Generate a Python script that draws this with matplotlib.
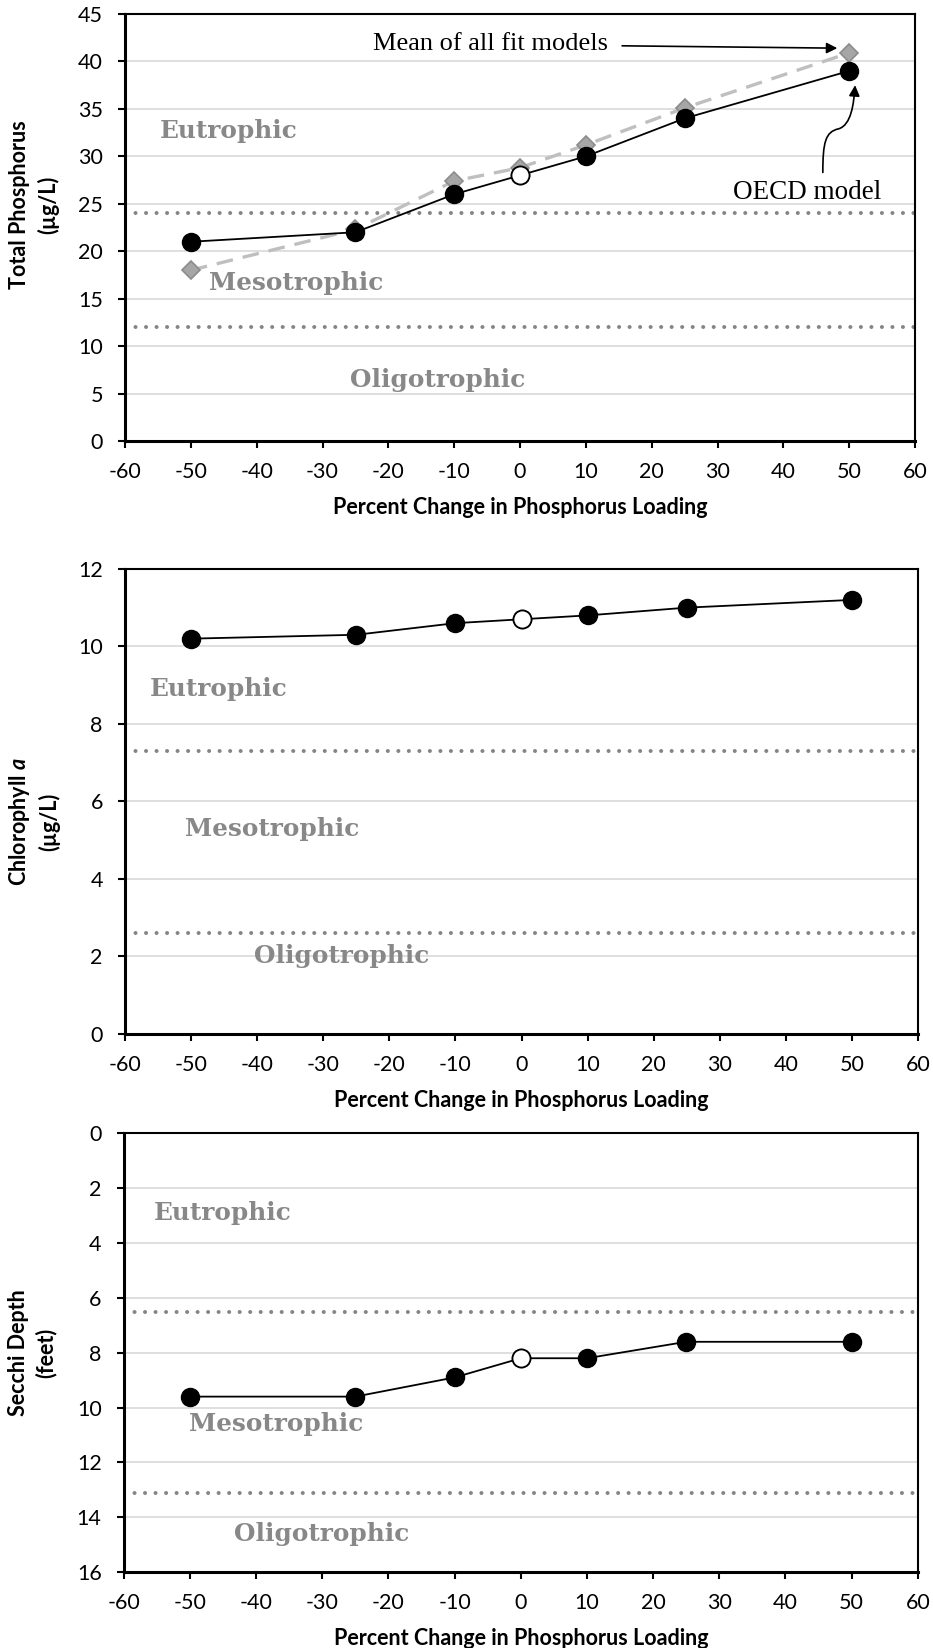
import matplotlib
matplotlib.use("Agg")
import matplotlib.pyplot as plt
from matplotlib.patches import FancyArrowPatch
from matplotlib.path import Path

# ---- data -------------------------------------------------------------
load_change = [-50, -25, -10, 0, 10, 25, 50]   # % change in P loading
baseline = 0                                    # current condition (open marker)

tp_oecd = [21, 22, 26, 28, 30, 34, 39]
tp_mean = [18, 22.3, 27.4, 28.8, 31.2, 35.1, 40.9]
chla = [10.2, 10.3, 10.6, 10.7, 10.8, 11.0, 11.2]
secchi = [9.6, 9.6, 8.9, 8.2, 8.2, 7.6, 7.6]

tp_bounds = [24, 12]
chla_bounds = [7.3, 2.6]
secchi_bounds = [6.5, 13.1]

state_names = ["Eutrophic", "Mesotrophic", "Oligotrophic"]
tp_label_pos = [(-54.7, 32.7), (-47.2, 16.7), (-25.8, 6.4)]
chla_label_pos = [(-56.3, 8.9), (-50.9, 5.3), (-40.5, 2.0)]
secchi_label_pos = [(-55.4, 2.9), (-50.1, 10.6), (-43.4, 14.6)]

x_ticks = list(range(-60, 61, 10))

# ---- style ------------------------------------------------------------
SANS = "Lato"
SERIF_BOLD = "DejaVu Serif"
TIMES = "Liberation Serif"
GRID = "#d9d9d9"
DOT = "#858585"
STATE = "#888888"
TICK_FS = 15.5
LABEL_FS = 15.5

plt.rcParams["font.family"] = SANS
plt.rcParams["mathtext.fontset"] = "custom"
plt.rcParams["mathtext.it"] = "Lato:italic:bold"
plt.rcParams["mathtext.rm"] = "Lato:bold"

fig = plt.figure(figsize=(9.33, 16.48), dpi=100)

ax_tp = fig.add_axes([0.134, 0.7324, 0.8467, 0.2591])
ax_ch = fig.add_axes([0.134, 0.3726, 0.850, 0.2822])
ax_sd = fig.add_axes([0.1327, 0.0461, 0.851, 0.2661])


def style_axes(ax, ymin, ymax, ystep, ylabel, label_y, invert=False):
    ax.set_xlim(-60, 60)
    ax.set_xticks(x_ticks)
    ax.set_xticklabels([str(t) for t in x_ticks])
    yt = list(range(ymin, ymax + 1, ystep))
    ax.set_yticks(yt)
    ax.set_ylim(ymin, ymax)
    if invert:
        ax.invert_yaxis()
    ax.grid(axis="y", color=GRID, lw=1.2, zorder=0)
    ax.set_axisbelow(True)
    for s in ax.spines.values():
        s.set_linewidth(1.5)
        s.set_color("black")
    ax.spines["bottom"].set_linewidth(2.2)
    ax.spines["left"].set_linewidth(2.2)
    ax.tick_params(axis="x", direction="out", length=5, width=1.5,
                   labelsize=TICK_FS, pad=10)
    ax.tick_params(axis="y", direction="out", length=5, width=1.5,
                   labelsize=TICK_FS, pad=11)
    ax.set_xlabel("Percent Change in Phosphorus Loading",
                  fontsize=LABEL_FS, fontweight="bold", labelpad=11)
    ax.text(-0.115, label_y, ylabel, transform=ax.transAxes, rotation=90,
            ha="center", va="center", fontsize=LABEL_FS, fontweight="bold",
            multialignment="center", linespacing=1.35)


def bounds(ax, levels):
    for lvl in levels:
        ax.axhline(lvl, color=DOT, lw=2.9, linestyle=(0, (0.01, 2.6)),
                   dash_capstyle="round", zorder=1)


def states(ax, positions):
    for name, (px, py) in zip(state_names, positions):
        ax.text(px, py, name, ha="left", va="center", color=STATE,
                fontsize=17.8, fontweight="bold", family=SERIF_BOLD, zorder=2)


def model_line(ax, values):
    ax.plot(load_change, values, color="black", lw=1.3, marker="o",
            markersize=13, markerfacecolor="black",
            markeredgecolor="black", zorder=5)
    i = load_change.index(baseline)
    ax.plot([load_change[i]], [values[i]], linestyle="none", marker="o",
            markersize=13, markerfacecolor="white",
            markeredgecolor="black", markeredgewidth=1.3, zorder=6)


# ---- total phosphorus ------------------------------------------------
style_axes(ax_tp, 0, 45, 5, "Total Phosphorus\n(\u00b5g/L)", 0.553)
bounds(ax_tp, tp_bounds)
states(ax_tp, tp_label_pos)
ax_tp.plot(load_change, tp_mean, color="#bfbfbf", lw=2.4,
           linestyle=(0, (5, 3)), marker="D", markersize=9,
           markerfacecolor="#a6a6a6", markeredgecolor="#8c8c8c",
           markeredgewidth=1.2, zorder=3)
model_line(ax_tp, tp_oecd)

ax_tp.annotate("Mean of all fit models", xy=(48.2, 41.4), xytext=(-22.3, 41.8),
               ha="left", va="center", fontsize=19, family=TIMES,
               arrowprops=dict(arrowstyle="-|>", color="black", lw=1.2,
                               mutation_scale=16, shrinkA=8, shrinkB=0))
ax_tp.text(32.4, 26.2, "OECD model", ha="left", va="center",
           fontsize=19.5, family=TIMES)
curve = Path([(46.0, 28.3), (46.0, 31.5), (46.4, 32.6), (48.4, 32.9),
              (50.3, 33.3), (50.7, 35.5), (50.9, 37.5)],
             [Path.MOVETO, Path.CURVE4, Path.CURVE4, Path.CURVE4,
              Path.CURVE4, Path.CURVE4, Path.CURVE4])
ax_tp.add_patch(FancyArrowPatch(path=curve, arrowstyle="-|>", color="black",
                                lw=1.2, mutation_scale=16, zorder=7))

# ---- chlorophyll a ---------------------------------------------------
style_axes(ax_ch, 0, 12, 2, "Chlorophyll $\\mathit{a}$\n(\u00b5g/L)", 0.457)
bounds(ax_ch, chla_bounds)
states(ax_ch, chla_label_pos)
model_line(ax_ch, chla)

# ---- secchi depth ----------------------------------------------------
style_axes(ax_sd, 0, 16, 2, "Secchi Depth\n(feet)", 0.5, invert=True)
bounds(ax_sd, secchi_bounds)
states(ax_sd, secchi_label_pos)
model_line(ax_sd, secchi)

fig.savefig("out.png", dpi=100, facecolor="white")
